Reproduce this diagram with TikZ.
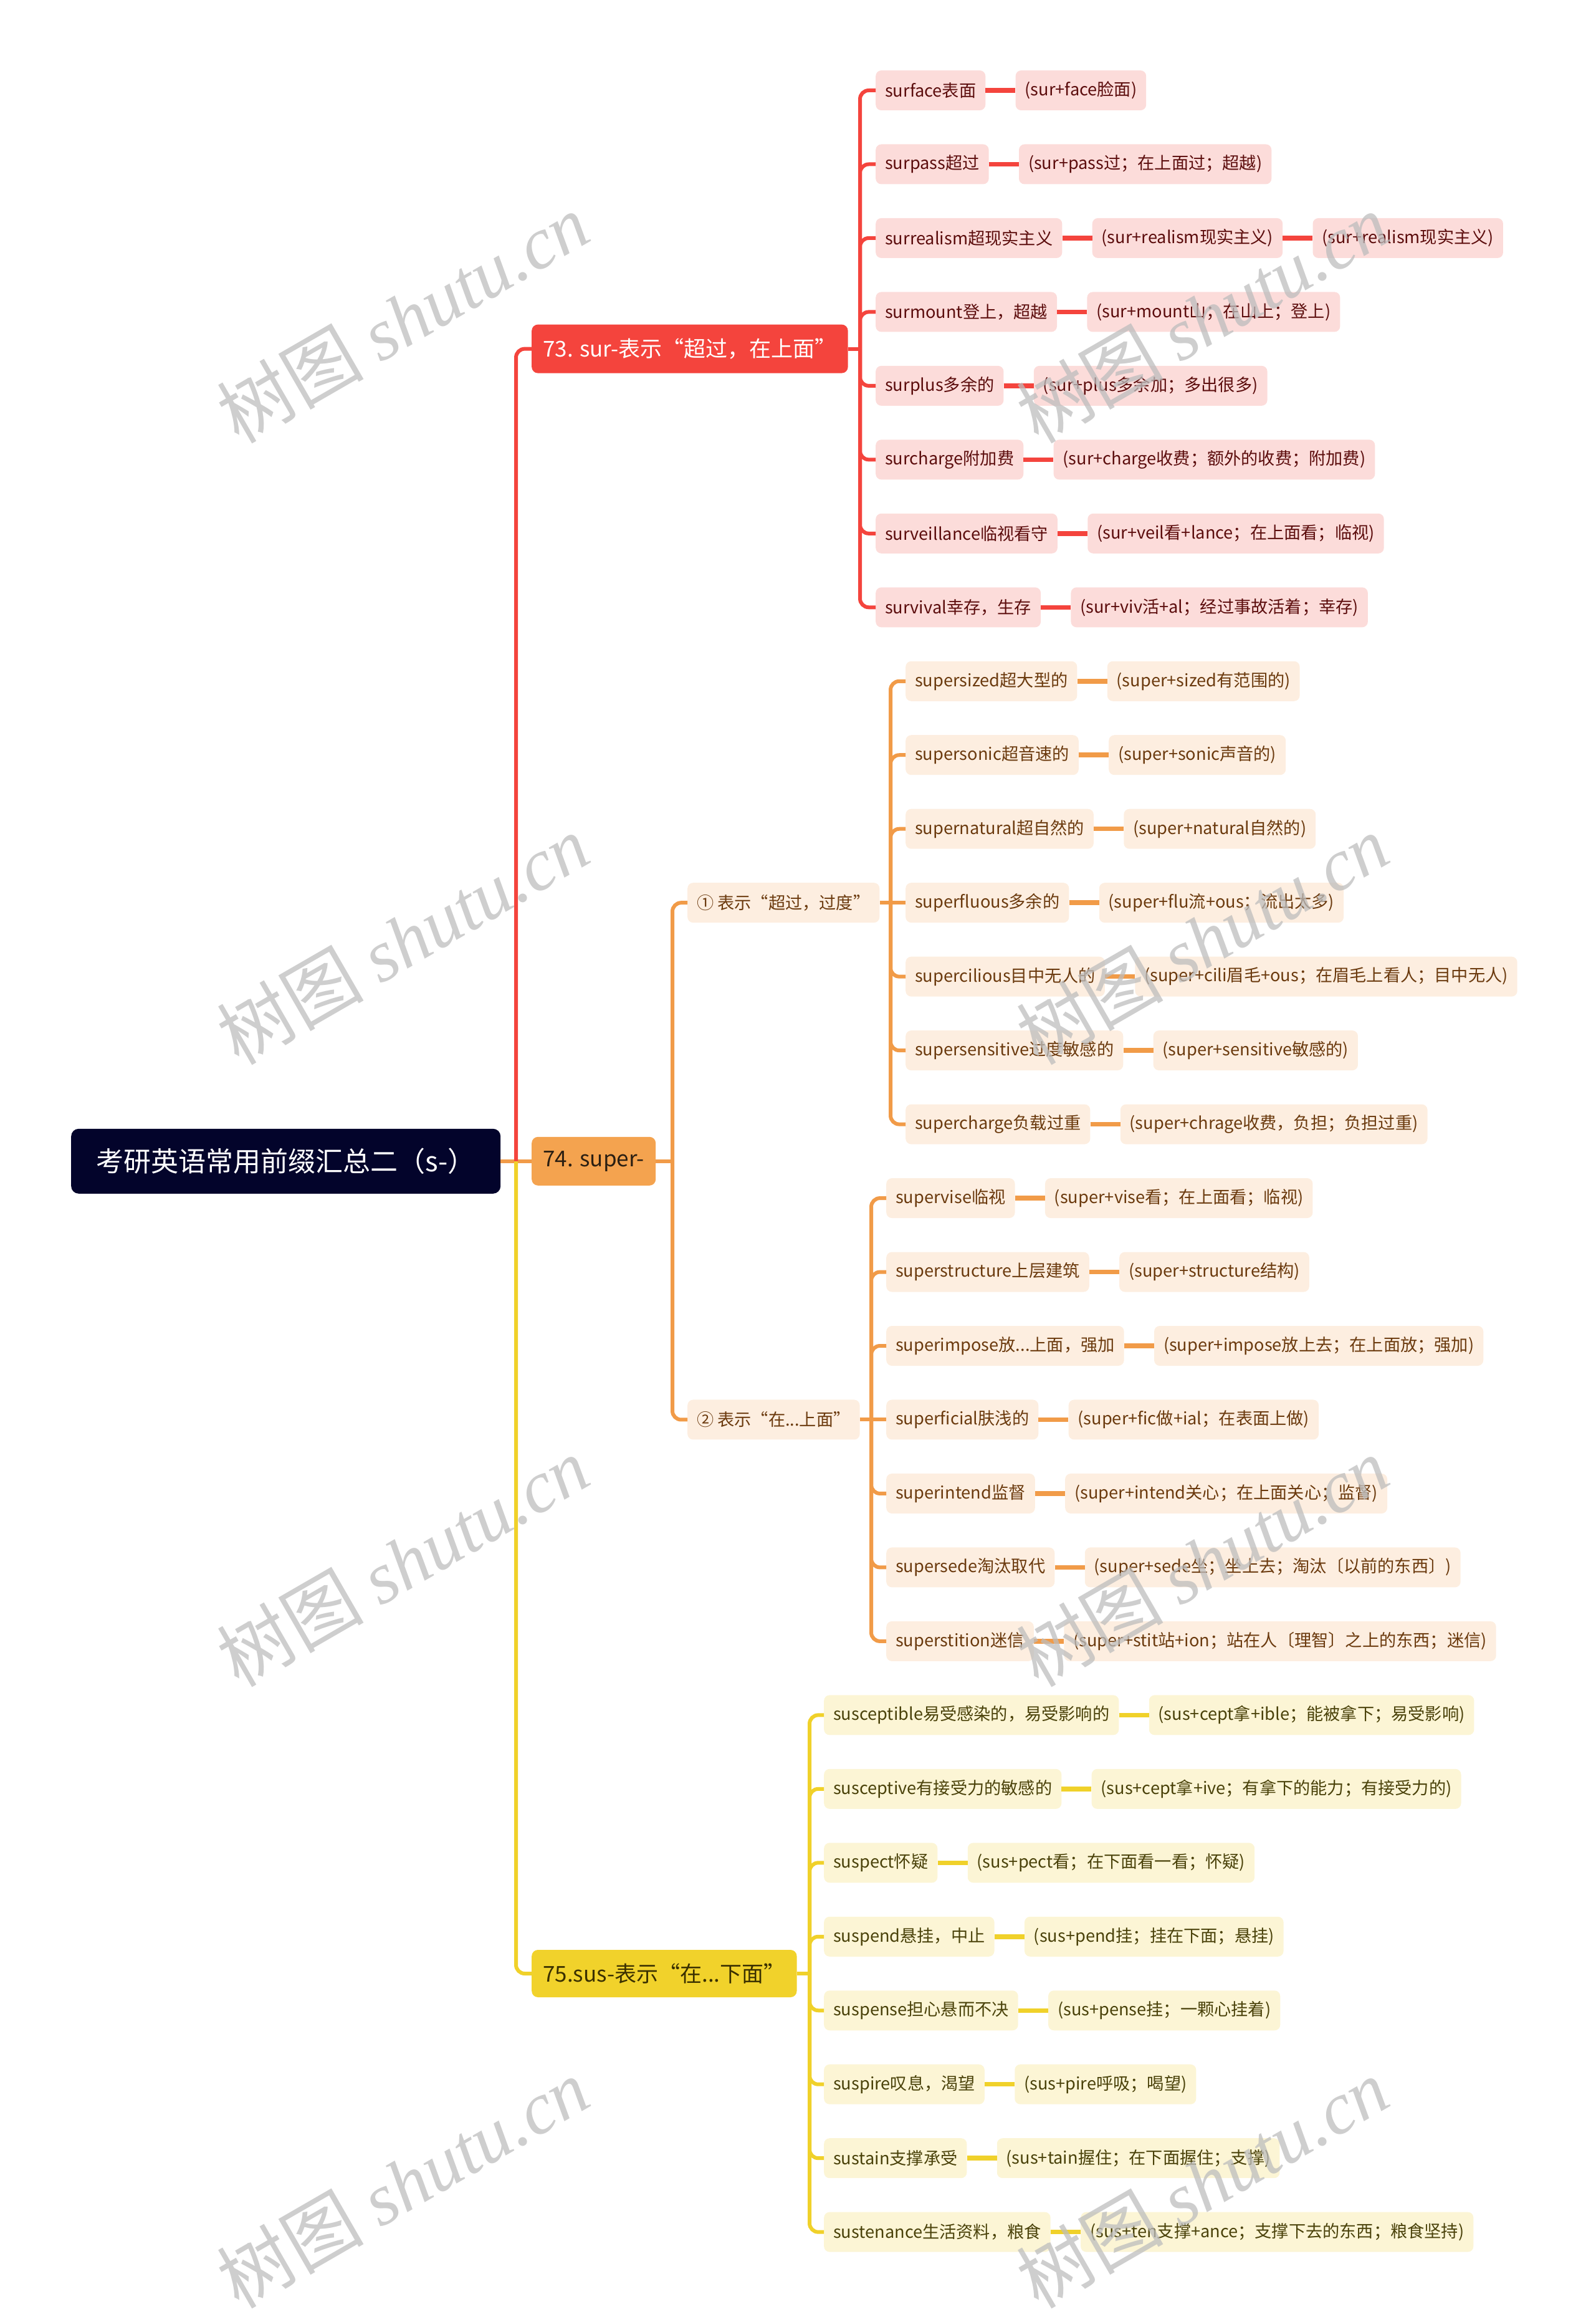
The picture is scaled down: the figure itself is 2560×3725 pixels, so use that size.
\documentclass[tikz,border=0pt]{standalone}
\usepackage{fontspec}
\setmainfont{Noto Sans CJK SC}
\newfontfamily\wmserif{Liberation Serif}
\newcommand\fs[1]{\fontsize{#1pt}{#1pt}\selectfont}
\definecolor{cR}{HTML}{F4443D}
\definecolor{lR}{HTML}{FCDCDA}
\definecolor{tR}{HTML}{5C0D0D}
\definecolor{cO}{HTML}{F19B48}
\definecolor{fO}{HTML}{F4A34F}
\definecolor{lO}{HTML}{FDEEE0}
\definecolor{tO}{HTML}{6B3A0E}
\definecolor{cY}{HTML}{F0D12A}
\definecolor{fY}{HTML}{F1D22B}
\definecolor{lY}{HTML}{FCF5D5}
\definecolor{tY}{HTML}{4A420A}
\definecolor{rootc}{HTML}{03042B}
\definecolor{wmc}{HTML}{BDBDBD}
\newcommand\lf[5]{%
  \node[leaf#1] (#2) at (\curx,#3) {#4};
  \node[leaf#1] (#2e) at ([xshift=48pt]#2.east) {#5};
  \draw[conn#1] (#2.east) -- (#2e.west);}
\begin{document}
\begin{tikzpicture}[x=1pt,y=-1pt,
  leafbase/.style={rounded corners=9pt, minimum height=64pt, inner xsep=15pt, inner ysep=0pt, font=\fs{27.2}, anchor=west},
  leafR/.style={leafbase, fill=lR, text=tR},
  leafO/.style={leafbase, fill=lO, text=tO},
  leafY/.style={leafbase, fill=lY, text=tY},
  brbox/.style={rounded corners=10pt, inner xsep=18pt, inner ysep=0pt, font=\fs{35}, anchor=west},
  stemR/.style={draw=cR, line width=6pt, rounded corners=14pt},
  stemO/.style={draw=cO, line width=6pt, rounded corners=14pt},
  stemY/.style={draw=cY, line width=6pt, rounded corners=14pt},
  connR/.style={draw=cR, line width=7.5pt},
  connO/.style={draw=cO, line width=7.5pt},
  connY/.style={draw=cY, line width=7.5pt},
  wm/.style={text=wmc, text opacity=0.75, font=\fs{118}, rotate=30, inner sep=0pt}
]
\useasboundingbox (0,0) rectangle (2560,3725);

% root and main branches
\node[rounded corners=12pt, fill=rootc, text=white, font=\fs{44}, minimum width=689pt, minimum height=104pt, inner sep=0pt, anchor=west] (root) at (114,1862.8) {考研英语常用前缀汇总二（s-）};
\node[brbox, fill=cR, text=white, minimum width=503pt, minimum height=78pt] (b73) at (853,559.6) {73. sur-表示“超过，在上面”};
\node[brbox, fill=fO, text={rgb,255:red,43;green,31;blue,18}, minimum width=199pt, minimum height=78pt] (b74) at (853,1862.8) {74. super-};
\node[brbox, fill=fY, text={rgb,255:red,58;green,48;blue,0}, minimum width=420pt, minimum height=76pt] (b75) at (853,3166) {75.sus-表示“在...下面”};

% 74 sub-branches
\node[leafO, minimum width=302pt] (o1) at (1103,1448.17) {① 表示“超过，过度”};
\node[leafO, minimum width=271pt] (o2) at (1103,2277.46) {② 表示“在...上面”};

% 73 children
\def\curx{1405}
\lf{R}{r1}{145}{surface表面}{(sur+face脸面)}
\lf{R}{r2}{263.47}{surpass超过}{(sur+pass过；在上面过；超越)}
\lf{R}{r3}{381.94}{surrealism超现实主义}{(sur+realism现实主义)}
\node[leafR] (r3f) at ([xshift=48pt]r3e.east) {(sur+realism现实主义)};
\draw[connR] (r3e.east) -- (r3f.west);
\lf{R}{r4}{500.41}{surmount登上，超越}{(sur+mount山；在山上；登上)}
\lf{R}{r5}{618.88}{surplus多余的}{(sur+plus多余加；多出很多)}
\lf{R}{r6}{737.35}{surcharge附加费}{(sur+charge收费；额外的收费；附加费)}
\lf{R}{r7}{855.82}{surveillance临视看守}{(sur+veil看+lance；在上面看；临视)}
\lf{R}{r8}{974.29}{survival幸存，生存}{(sur+viv活+al；经过事故活着；幸存)}

% (1) children
\def\curx{1453}
\lf{O}{s1}{1092.76}{supersized超大型的}{(super+sized有范围的)}
\lf{O}{s2}{1211.23}{supersonic超音速的}{(super+sonic声音的)}
\lf{O}{s3}{1329.7}{supernatural超自然的}{(super+natural自然的)}
\lf{O}{s4}{1448.17}{superfluous多余的}{(super+flu流+ous；流出太多)}
\lf{O}{s5}{1566.64}{supercilious目中无人的}{(super+cili眉毛+ous；在眉毛上看人；目中无人)}
\lf{O}{s6}{1685.11}{supersensitive过度敏感的}{(super+sensitive敏感的)}
\lf{O}{s7}{1803.58}{supercharge负载过重}{(super+chrage收费，负担；负担过重)}

% (2) children
\def\curx{1422}
\lf{O}{t1}{1922.05}{supervise临视}{(super+vise看；在上面看；临视)}
\lf{O}{t2}{2040.52}{superstructure上层建筑}{(super+structure结构)}
\lf{O}{t3}{2158.99}{superimpose放...上面，强加}{(super+impose放上去；在上面放；强加)}
\lf{O}{t4}{2277.46}{superficial肤浅的}{(super+fic做+ial；在表面上做)}
\lf{O}{t5}{2395.93}{superintend监督}{(super+intend关心；在上面关心；监督)}
\lf{O}{t6}{2514.4}{supersede淘汰取代}{(super+sede坐；坐上去；淘汰〔以前的东西〕)}
\lf{O}{t7}{2632.87}{superstition迷信}{(super+stit站+ion；站在人〔理智〕之上的东西；迷信)}

% 75 children
\def\curx{1322}
\lf{Y}{y1}{2751.34}{susceptible易受感染的，易受影响的}{(sus+cept拿+ible；能被拿下；易受影响)}
\lf{Y}{y2}{2869.81}{susceptive有接受力的敏感的}{(sus+cept拿+ive；有拿下的能力；有接受力的)}
\lf{Y}{y3}{2988.28}{suspect怀疑}{(sus+pect看；在下面看一看；怀疑)}
\lf{Y}{y4}{3106.75}{suspend悬挂，中止}{(sus+pend挂；挂在下面；悬挂)}
\lf{Y}{y5}{3225.22}{suspense担心悬而不决}{(sus+pense挂；一颗心挂着)}
\lf{Y}{y6}{3343.69}{suspire叹息，渴望}{(sus+pire呼吸；喝望)}
\lf{Y}{y7}{3462.16}{sustain支撑承受}{(sus+tain握住；在下面握住；支撑)}
\lf{Y}{y8}{3580.63}{sustenance生活资料，粮食}{(sus+ten支撑+ance；支撑下去的东西；粮食坚持)}

% trunk connectors
\draw[stemO] (root.east) -- (b74.west);
\draw[stemR] (828,1862.8) |- (b73.west);
\draw[stemY] (828,1862.8) |- (b75.west);

% 73 stems
\draw[stemR] (b73.east) -- (1380,559.6);
\foreach \c in {r1,r2,r3,r4,r5,r6,r7,r8} \draw[stemR] (1380,559.6) |- (\c.west);

% 74 stems
\draw[stemO] (b74.east) -- (1079,1862.8);
\draw[stemO] (1079,1862.8) |- (o1.west);
\draw[stemO] (1079,1862.8) |- (o2.west);
\draw[stemO] (o1.east) -- (s4.west);
\foreach \c in {s1,s2,s3,s5,s6,s7} \draw[stemO] (1429,1448.17) |- (\c.west);
\draw[stemO] (o2.east) -- (t4.west);
\foreach \c in {t1,t2,t3,t5,t6,t7} \draw[stemO] (1398,2277.46) |- (\c.west);

% 75 stems
\draw[stemY] (b75.east) -- (1299,3166);
\foreach \c in {y1,y2,y3,y4,y5,y6,y7,y8} \draw[stemY] (1299,3166) |- (\c.west);

% watermarks
\foreach \wx in {646,1929} {
  \foreach \wy in {510,1507,2505,3502} {
    \node[wm] at (\wx,\wy) {树图 {\wmserif\itshape shutu.cn}};
  }
}
\end{tikzpicture}
\end{document}
